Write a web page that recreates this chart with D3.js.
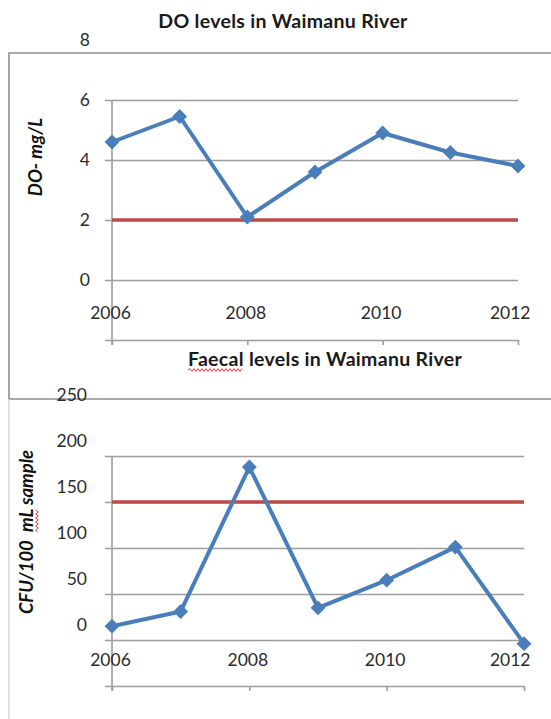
<!DOCTYPE html>
<html>
<head>
<meta charset="utf-8">
<script src="https://cdn.jsdelivr.net/npm/d3@7"></script>
<style>
  html, body { margin: 0; padding: 0; background: #fff; }
  svg { display: block; }
  text { font-family: Lato, "Open Sans", sans-serif; }
</style>
</head>
<body>
<svg id="chart" width="551" height="719"></svg>
<script>
// Dissolved oxygen, mg/L
const years = [2006, 2007, 2008, 2009, 2010, 2011, 2012];
const doValues = [4.6, 5.45, 2.1, 3.6, 4.9, 4.25, 3.8];
const doLimit = 2;
const doGridTicks = [-2, 0, 2, 4, 6];
const doLabelTicks = [0, 2, 4, 6, 8];

// Faecal coliforms, CFU/100 mL
const faecalValues = [15, 31, 188, 35, 65, 101, -4];
const faecalLimit = 150;
const faecalGridTicks = [-50, 0, 50, 100, 150, 200];
const faecalLabelTicks = [0, 50, 100, 150, 200, 250];

const yearTicks = [2006, 2008, 2010, 2012];

const BLUE = "#4a7ebb";
const RED = "#be4b48";
const GRID = "#9d9d9d";
const TXT = "#2b2b2b";

const svg = d3.select("#chart");

// outer frame of the upper chart area
const frame = svg.append("g").attr("fill", "none");
frame.append("path").attr("d", "M551,53H9V399H551").attr("stroke", "#8e8e8e").attr("stroke-width", 1.6);
frame.append("path").attr("d", "M9,399V719").attr("stroke", "#d4d4d4").attr("stroke-width", 1.4);

function wavy(x0, x1, y) {
  const p = d3.path();
  p.moveTo(x0, y);
  let up = true;
  for (let x = x0 + 2; x <= x1; x += 2) { p.lineTo(x, y + (up ? -1.4 : 1.4)); up = !up; }
  return p.toString();
}

function drawPanel(cfg) {
  const g = svg.append("g");
  const x = d3.scaleLinear().domain([2006, 2012]).range([cfg.x0, cfg.x1]);
  const y = d3.scaleLinear().domain(cfg.yDomain).range(cfg.yRange);

  // horizontal gridlines (the lowest one doubles as the category axis)
  const grid = g.append("g")
    .attr("transform", `translate(${cfg.x1},0)`)
    .call(d3.axisLeft(y).tickValues(cfg.gridTicks).tickSize(cfg.x1 - cfg.gridLeft).tickFormat(""));
  grid.select(".domain").remove();
  grid.selectAll("line").attr("stroke", GRID).attr("stroke-width", 1.6);

  // value axis line
  g.append("line")
    .attr("x1", x(2006)).attr("x2", x(2006))
    .attr("y1", y(cfg.gridTicks[cfg.gridTicks.length - 1])).attr("y2", y(cfg.yDomain[0]) + 5)
    .attr("stroke", GRID).attr("stroke-width", 1.6);

  // value labels
  const yl = g.append("g")
    .attr("transform", `translate(${cfg.labelRight},${cfg.labelShift})`)
    .call(d3.axisLeft(y).tickValues(cfg.labelTicks).tickSize(0).tickPadding(0));
  yl.select(".domain").remove();
  yl.selectAll("text").attr("font-size", 17.5).attr("fill", TXT).attr("font-family", "Lato, sans-serif");

  // year axis: ticks below the axis line, labels drawn just above it
  const xa = g.append("g")
    .attr("transform", `translate(0,${y(cfg.yDomain[0])})`)
    .call(d3.axisBottom(x).tickValues(yearTicks).tickSize(5).tickSizeOuter(0).tickFormat(d3.format("d")));
  xa.select(".domain").remove();
  xa.selectAll("line").attr("stroke", GRID).attr("stroke-width", 1.6);
  xa.selectAll("text")
    .attr("font-size", 17.5).attr("fill", TXT).attr("font-family", "Lato, sans-serif")
    .attr("y", cfg.yearLabelY - y(cfg.yDomain[0])).attr("dy", "0.35em")
    .attr("x", -2)
    .each(function (d) {
      const w = this.getComputedTextLength();
      const cx = x(d) - 2;
      if (cx + w / 2 > 530) d3.select(this).attr("x", 530 - w / 2 - x(d));
    });

  // threshold line
  g.append("line")
    .attr("x1", x(2006)).attr("x2", x(2012))
    .attr("y1", y(cfg.limit)).attr("y2", y(cfg.limit))
    .attr("stroke", RED).attr("stroke-width", 3.6);

  // data series
  const line = d3.line().x((d, i) => x(years[i])).y(d => y(d));
  g.append("path").datum(cfg.values)
    .attr("d", line).attr("fill", "none")
    .attr("stroke", BLUE).attr("stroke-width", 4).attr("stroke-linejoin", "round");
  g.selectAll(".mk").data(cfg.values).join("path")
    .attr("class", "mk")
    .attr("d", d3.symbol(d3.symbolSquare, 110))
    .attr("transform", (d, i) => `translate(${x(years[i])},${y(d)}) rotate(45)`)
    .attr("fill", BLUE);

  // title
  const t = g.append("text")
    .attr("x", cfg.titleX).attr("y", cfg.titleY).attr("dy", "0.35em")
    .attr("text-anchor", "middle").attr("font-weight", 700).attr("font-size", 19.5)
    .attr("letter-spacing", 0.3)
    .attr("fill", "#1a1a1a").text(cfg.title);

  // value axis title
  const yt = g.append("g").attr("transform", `translate(${cfg.yTitleX},${cfg.yTitleY}) rotate(-90)`);
  yt.append("text")
    .attr("text-anchor", "middle").attr("dy", "0.35em")
    .attr("font-weight", 700).attr("font-style", "italic").attr("font-size", 18.5)
    .attr("fill", "#111").attr("xml:space", "preserve").text(cfg.yTitle);

  return { g, t, yt };
}

const doPanel = drawPanel({
  x0: 112, x1: 518, gridLeft: 105,
  yDomain: [-2, 8], yRange: [340, 40],
  gridTicks: doGridTicks, labelTicks: doLabelTicks, labelRight: 90, labelShift: 0,
  yearLabelY: 313, limit: doLimit, values: doValues,
  title: "DO levels in Waimanu River", titleX: 283, titleY: 21,
  yTitle: "DO- mg/L", yTitleX: 36, yTitleY: 157
});

const faecalPanel = drawPanel({
  x0: 112, x1: 524, gridLeft: 105,
  yDomain: [-50, 250], yRange: [686, 410],
  gridTicks: faecalGridTicks, labelTicks: faecalLabelTicks, labelRight: 87, labelShift: -15,
  yearLabelY: 660, limit: faecalLimit, values: faecalValues,
  title: "Faecal levels in Waimanu River", titleX: 325, titleY: 359,
  yTitle: "CFU/100  mL sample", yTitleX: 27, yTitleY: 532
});

// spell-check underlines
{
  const node = faecalPanel.t.node();
  const bb = node.getBBox();
  const w = node.getSubStringLength(0, 6);
  faecalPanel.g.append("path").attr("d", wavy(bb.x, bb.x + w, 370))
    .attr("fill", "none").attr("stroke", "#e23a3a").attr("stroke-width", 1);
  const yn = faecalPanel.yt.select("text").node();
  const ybb = yn.getBBox();
  const s0 = yn.getSubStringLength(0, 9);
  const s1 = yn.getSubStringLength(0, 11);
  faecalPanel.yt.append("path").attr("d", wavy(ybb.x + s0, ybb.x + s1, 10))
    .attr("fill", "none").attr("stroke", "#e23a3a").attr("stroke-width", 1);
}
</script>
</body>
</html>
